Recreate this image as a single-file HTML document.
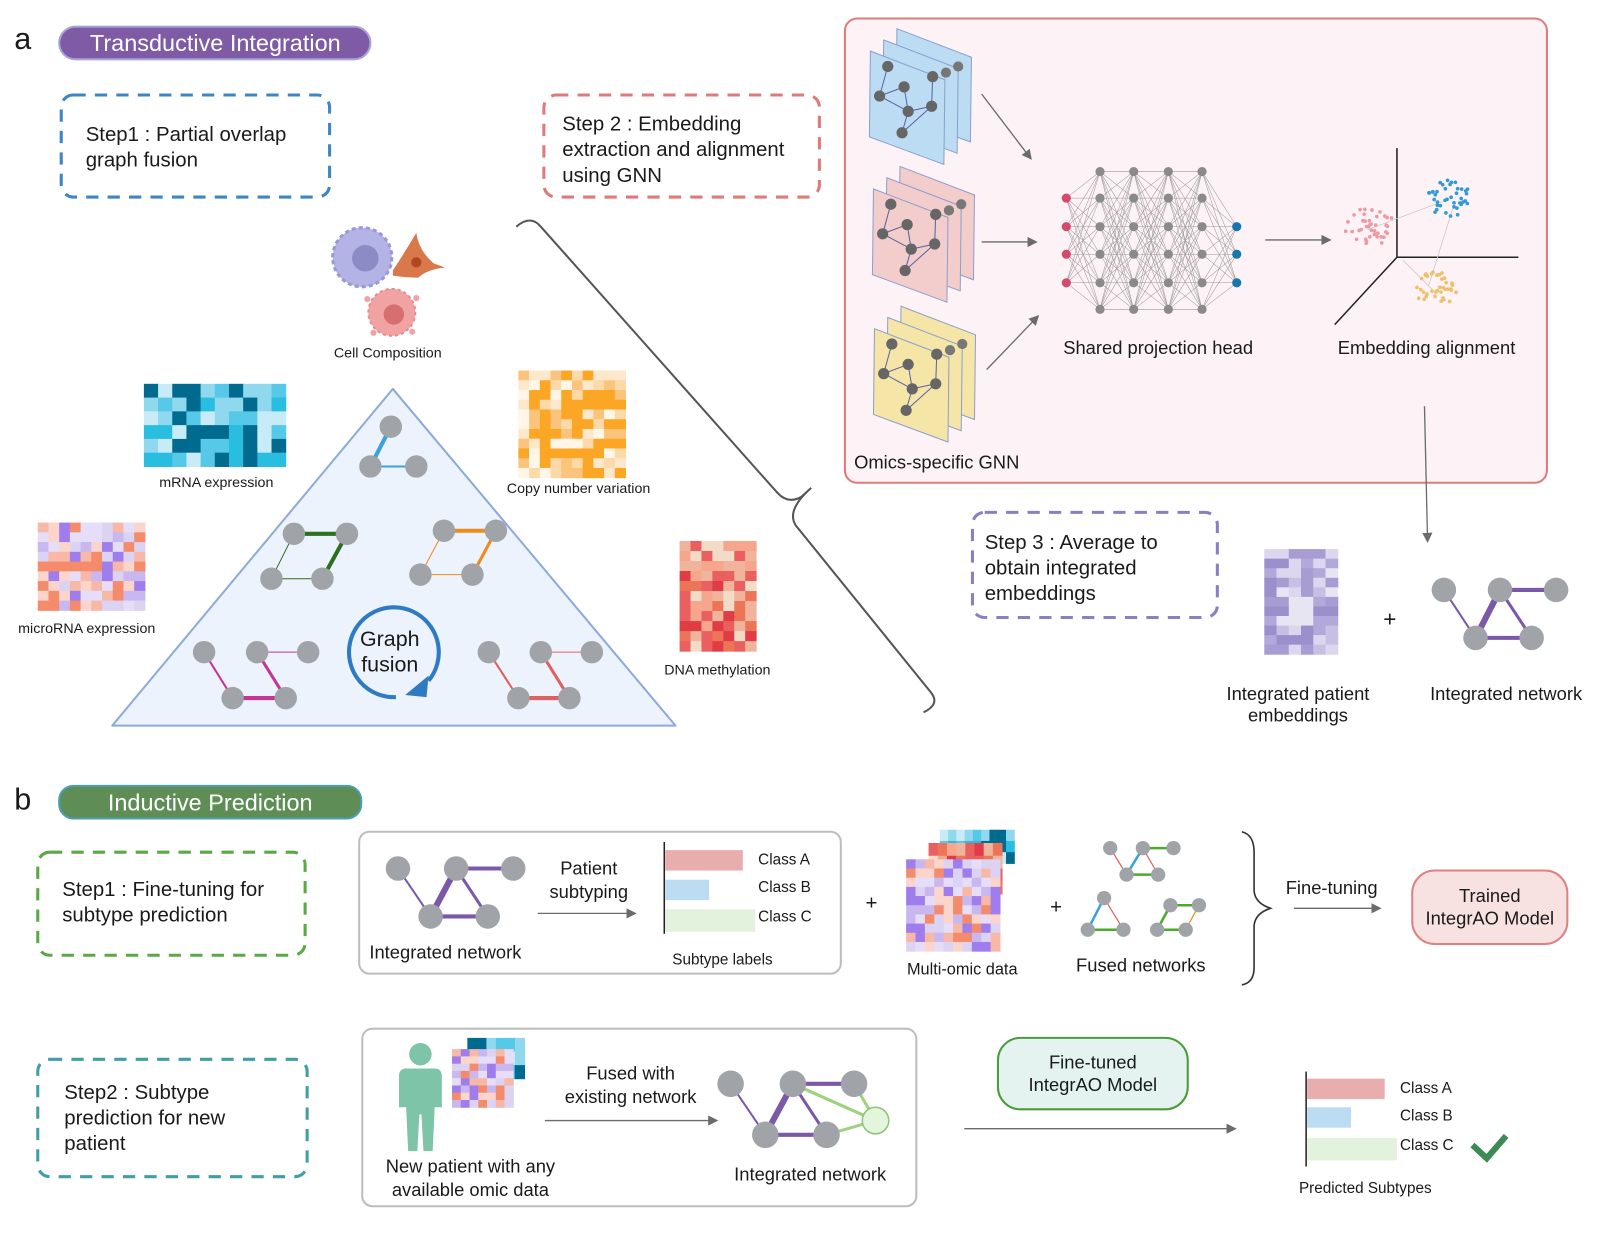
<!DOCTYPE html>
<html><head><meta charset="utf-8">
<style>
html,body{margin:0;padding:0;background:#fff;}
svg{display:block;}
text{font-family:"Liberation Sans",sans-serif;fill:#1a1a1a;}
</style></head>
<body>
<svg id="s" width="1600" height="1237" viewBox="0 0 1568 1212" xmlns="http://www.w3.org/2000/svg">
<defs>
<marker id="ar" markerWidth="10" markerHeight="10" refX="8" refY="5" orient="auto" markerUnits="userSpaceOnUse"><path d="M0,0 L10,5 L0,10 z" fill="#6b6b6b"/></marker>
</defs>
<rect width="1568" height="1212" fill="#fff"/>

<!-- ===== Section a ===== -->
<text x="14" y="48" font-size="30">a</text>
<rect x="58" y="26" width="305" height="32" rx="16" fill="#7f5ba6" stroke="#a9a3dc" stroke-width="2"/>
<text x="211" y="50" font-size="23" text-anchor="middle" style="fill:#fff">Transductive Integration</text>

<rect x="60" y="93" width="263" height="100" rx="12" fill="none" stroke="#3d85c6" stroke-width="3" stroke-dasharray="12,9"/>
<text x="84" y="138" font-size="20">Step1 : Partial overlap</text>
<text x="84" y="163" font-size="20">graph fusion</text>

<rect x="533" y="93" width="270" height="100" rx="12" fill="none" stroke="#e07a7a" stroke-width="3" stroke-dasharray="12,9"/>
<text x="551" y="128" font-size="20">Step 2 : Embedding</text>
<text x="551" y="153" font-size="20">extraction and alignment</text>
<text x="551" y="178" font-size="20">using GNN</text>

<!-- bracket -->
<path d="M506,222 Q520,210 530,222 L762,483 Q772,494 785,487 L795,478 Q770,500 780,515 L912,678 Q922,690 905,698" fill="none" stroke="#555" stroke-width="2"/>

<!-- cell composition -->
<circle cx="355" cy="252" r="29" fill="#b4b3e6" stroke="#9a98d6" stroke-width="3" stroke-dasharray="4,3"/>
<circle cx="358" cy="253" r="13" fill="#8d8bc6"/>
<path d="M385,265 Q398,245 408,228 Q410,245 425,258 L436,262 Q418,264 410,272 Q398,272 385,270z" fill="#d9784a"/>
<circle cx="408" cy="257" r="5" fill="#b0471e"/>
<circle cx="384" cy="306" r="23" fill="#f1a3a3" stroke="#e88" stroke-width="2" stroke-dasharray="3,3"/>
<circle cx="386" cy="308" r="10" fill="#d66f6f"/>
<circle cx="360" cy="293" r="3" fill="#f1a3a3"/><circle cx="408" cy="292" r="3" fill="#f1a3a3"/><circle cx="366" cy="326" r="3" fill="#f1a3a3"/><circle cx="404" cy="325" r="3" fill="#f1a3a3"/>
<text x="380" y="350" font-size="14" text-anchor="middle">Cell Composition</text>

<g id="hm"></g>
<text x="212" y="477" font-size="14" text-anchor="middle">mRNA expression</text>
<text x="567" y="483" font-size="14" text-anchor="middle">Copy number variation</text>
<text x="85" y="620" font-size="14" text-anchor="middle">microRNA expression</text>
<text x="703" y="661" font-size="14" text-anchor="middle">DNA methylation</text>

<!-- triangle -->
<path d="M385,381 L662,711 L110,711 Z" fill="#ecf3fc" stroke="#8eaadb" stroke-width="2" stroke-linejoin="round"/>
<g stroke-linecap="round">
<line x1="383" y1="418" x2="363" y2="457" stroke="#3aa0de" stroke-width="4"/>
<line x1="363" y1="457" x2="408" y2="457" stroke="#3aa0de" stroke-width="2"/>
<line x1="288" y1="523" x2="340" y2="523" stroke="#2d6e1f" stroke-width="4"/>
<line x1="340" y1="523" x2="316" y2="567" stroke="#2d6e1f" stroke-width="4"/>
<line x1="288" y1="523" x2="266" y2="567" stroke="#2d6e1f" stroke-width="1"/>
<line x1="266" y1="567" x2="316" y2="567" stroke="#2d6e1f" stroke-width="1"/>
<line x1="435" y1="520" x2="486" y2="520" stroke="#f08a1c" stroke-width="4"/>
<line x1="486" y1="520" x2="463" y2="563" stroke="#f08a1c" stroke-width="3"/>
<line x1="435" y1="520" x2="412" y2="563" stroke="#f08a1c" stroke-width="1"/>
<line x1="412" y1="563" x2="463" y2="563" stroke="#f08a1c" stroke-width="1"/>
<line x1="200" y1="639" x2="228" y2="684" stroke="#c43594" stroke-width="2"/>
<line x1="252" y1="639" x2="280" y2="684" stroke="#c43594" stroke-width="3"/>
<line x1="228" y1="684" x2="280" y2="684" stroke="#c43594" stroke-width="4"/>
<line x1="252" y1="639" x2="302" y2="639" stroke="#c43594" stroke-width="1"/>
<line x1="479" y1="639" x2="508" y2="684" stroke="#e06060" stroke-width="2"/>
<line x1="530" y1="639" x2="558" y2="684" stroke="#e06060" stroke-width="3"/>
<line x1="508" y1="684" x2="558" y2="684" stroke="#e06060" stroke-width="4"/>
<line x1="530" y1="639" x2="580" y2="639" stroke="#e06060" stroke-width="1"/>
</g>
<g fill="#a0a3a8">
<circle cx="383" cy="418" r="11"/><circle cx="363" cy="457" r="11"/><circle cx="408" cy="457" r="11"/>
<circle cx="288" cy="523" r="11"/><circle cx="340" cy="523" r="11"/><circle cx="266" cy="567" r="11"/><circle cx="316" cy="567" r="11"/>
<circle cx="435" cy="520" r="11"/><circle cx="486" cy="520" r="11"/><circle cx="412" cy="563" r="11"/><circle cx="463" cy="563" r="11"/>
<circle cx="200" cy="639" r="11"/><circle cx="252" cy="639" r="11"/><circle cx="302" cy="639" r="11"/><circle cx="228" cy="684" r="11"/><circle cx="280" cy="684" r="11"/>
<circle cx="479" cy="639" r="11"/><circle cx="530" cy="639" r="11"/><circle cx="580" cy="639" r="11"/><circle cx="508" cy="684" r="11"/><circle cx="558" cy="684" r="11"/>
</g>
<path d="M388,683 A44,44 0 1 1 420,667" fill="none" stroke="#2f7bc3" stroke-width="4"/>
<path d="M397,681 L420,662 L418,683 Z" fill="#2f7bc3"/>
<text x="382" y="633" font-size="21" text-anchor="middle">Graph</text>
<text x="382" y="658" font-size="21" text-anchor="middle">fusion</text>

<!-- pink panel -->
<rect x="828" y="18" width="688" height="455" rx="12" fill="#fdf2f6" stroke="#e07a7a" stroke-width="2"/>
<g id="gnn"></g>
<g id="nn"></g>
<line x1="962" y1="92" x2="1010" y2="155" stroke="#6b6b6b" stroke-width="1.3" marker-end="url(#ar)"/>
<line x1="962" y1="237" x2="1015" y2="237" stroke="#6b6b6b" stroke-width="1.3" marker-end="url(#ar)"/>
<line x1="967" y1="362" x2="1017" y2="310" stroke="#6b6b6b" stroke-width="1.3" marker-end="url(#ar)"/>
<line x1="1240" y1="235" x2="1303" y2="235" stroke="#6b6b6b" stroke-width="1.3" marker-end="url(#ar)"/>
<line x1="1369" y1="145" x2="1369" y2="252" stroke="#222" stroke-width="1.5"/>
<line x1="1369" y1="252" x2="1488" y2="252" stroke="#222" stroke-width="1.5"/>
<line x1="1369" y1="252" x2="1308" y2="318" stroke="#222" stroke-width="1.5"/>
<g id="cl"></g>
<text x="1135" y="347" font-size="18" text-anchor="middle">Shared projection head</text>
<text x="1398" y="347" font-size="18" text-anchor="middle">Embedding alignment</text>
<text x="837" y="459" font-size="18">Omics-specific GNN</text>

<line x1="1396" y1="398" x2="1399" y2="530" stroke="#6b6b6b" stroke-width="1.3" marker-end="url(#ar)"/>

<rect x="953" y="502" width="240" height="103" rx="12" fill="none" stroke="#8a7fc0" stroke-width="3" stroke-dasharray="12,9"/>
<text x="965" y="538" font-size="20">Step 3 : Average to</text>
<text x="965" y="563" font-size="20">obtain integrated</text>
<text x="965" y="588" font-size="20">embeddings</text>
<text x="1362" y="614" font-size="22" text-anchor="middle">+</text>
<g stroke="#7b59a8" stroke-linecap="round">
<line x1="1415" y1="578" x2="1446" y2="625" stroke-width="2"/>
<line x1="1470" y1="578" x2="1446" y2="625" stroke-width="6"/>
<line x1="1470" y1="578" x2="1525" y2="578" stroke-width="4"/>
<line x1="1470" y1="578" x2="1501" y2="625" stroke-width="3"/>
<line x1="1446" y1="625" x2="1501" y2="625" stroke-width="4"/>
</g>
<g fill="#a0a3a8"><circle cx="1415" cy="578" r="12"/><circle cx="1470" cy="578" r="12"/><circle cx="1525" cy="578" r="12"/><circle cx="1446" cy="625" r="12"/><circle cx="1501" cy="625" r="12"/></g>
<text x="1272" y="686" font-size="18" text-anchor="middle">Integrated  patient</text>
<text x="1272" y="707" font-size="18" text-anchor="middle">embeddings</text>
<text x="1476" y="686" font-size="18" text-anchor="middle">Integrated  network</text>

<!-- ===== Section b ===== -->
<text x="14" y="793" font-size="30">b</text>
<rect x="58" y="770" width="296" height="32" rx="14" fill="#5e8e55" stroke="#4b9eb3" stroke-width="2"/>
<text x="206" y="794" font-size="23" text-anchor="middle" style="fill:#fff">Inductive Prediction</text>

<rect x="37" y="835" width="262" height="101" rx="12" fill="none" stroke="#5aa846" stroke-width="3" stroke-dasharray="12,9"/>
<text x="61" y="878" font-size="20">Step1 : Fine-tuning for</text>
<text x="61" y="903" font-size="20">subtype prediction</text>

<rect x="352" y="815" width="472" height="139" rx="10" fill="#fff" stroke="#bdbdbd" stroke-width="2"/>
<g stroke="#7b59a8" stroke-linecap="round">
<line x1="390" y1="851" x2="422" y2="898" stroke-width="2"/>
<line x1="447" y1="851" x2="422" y2="898" stroke-width="6"/>
<line x1="447" y1="851" x2="503" y2="851" stroke-width="4"/>
<line x1="447" y1="851" x2="478" y2="898" stroke-width="3"/>
<line x1="422" y1="898" x2="478" y2="898" stroke-width="4"/>
</g>
<g fill="#a0a3a8"><circle cx="390" cy="851" r="12"/><circle cx="447" cy="851" r="12"/><circle cx="503" cy="851" r="12"/><circle cx="422" cy="898" r="12"/><circle cx="478" cy="898" r="12"/></g>
<text x="362" y="939" font-size="18">Integrated  network</text>
<text x="577" y="857" font-size="18" text-anchor="middle">Patient</text>
<text x="577" y="880" font-size="18" text-anchor="middle">subtyping</text>
<line x1="527" y1="895" x2="622" y2="895" stroke="#6b6b6b" stroke-width="1.3" marker-end="url(#ar)"/>
<line x1="651" y1="825" x2="651" y2="915" stroke="#222" stroke-width="1.5"/>
<rect x="652" y="833" width="76" height="20" fill="#e8aeae"/>
<rect x="652" y="862" width="43" height="20" fill="#bcdcf3"/>
<rect x="652" y="891" width="88" height="22" fill="#e2f2dc"/>
<text x="743" y="847" font-size="15">Class A</text>
<text x="743" y="874" font-size="15">Class B</text>
<text x="743" y="903" font-size="15">Class C</text>
<text x="708" y="945" font-size="15" text-anchor="middle">Subtype labels</text>

<text x="854" y="891" font-size="20" text-anchor="middle">+</text>
<g id="hm2"></g>
<text x="943" y="955" font-size="16" text-anchor="middle">Multi-omic data</text>
<text x="1035" y="895" font-size="20" text-anchor="middle">+</text>
<g stroke-linecap="round" stroke-width="2.5">
<line x1="1120" y1="831" x2="1150" y2="831" stroke="#4caa2d"/>
<line x1="1120" y1="831" x2="1104" y2="857" stroke="#3aa0de"/>
<line x1="1088" y1="831" x2="1104" y2="857" stroke="#e06060" stroke-width="1.2"/>
<line x1="1120" y1="831" x2="1135" y2="857" stroke="#e06060" stroke-width="1.2"/>
<line x1="1104" y1="857" x2="1135" y2="857" stroke="#4caa2d"/>
<line x1="1082" y1="880" x2="1066" y2="911" stroke="#3aa0de"/>
<line x1="1082" y1="880" x2="1101" y2="911" stroke="#e06060" stroke-width="1.2"/>
<line x1="1066" y1="911" x2="1101" y2="911" stroke="#4caa2d"/>
<line x1="1147" y1="887" x2="1175" y2="887" stroke="#4caa2d"/>
<line x1="1147" y1="887" x2="1134" y2="911" stroke="#4caa2d"/>
<line x1="1175" y1="887" x2="1162" y2="911" stroke="#f08a1c" stroke-width="1.2"/>
<line x1="1134" y1="911" x2="1162" y2="911" stroke="#4caa2d"/>
</g>
<g fill="#a0a3a8">
<circle cx="1088" cy="831" r="7"/><circle cx="1120" cy="831" r="7"/><circle cx="1150" cy="831" r="7"/><circle cx="1104" cy="857" r="7"/><circle cx="1135" cy="857" r="7"/>
<circle cx="1082" cy="880" r="7"/><circle cx="1066" cy="911" r="7"/><circle cx="1101" cy="911" r="7"/>
<circle cx="1147" cy="887" r="7"/><circle cx="1175" cy="887" r="7"/><circle cx="1134" cy="911" r="7"/><circle cx="1162" cy="911" r="7"/>
</g>
<text x="1118" y="952" font-size="18" text-anchor="middle">Fused networks</text>
<path d="M1217,815 Q1229,818 1229,835 L1229,873 Q1230,885 1245,890 Q1230,895 1229,907 L1229,948 Q1229,963 1217,965" fill="none" stroke="#333" stroke-width="1.6"/>
<text x="1305" y="876" font-size="18" text-anchor="middle">Fine-tuning</text>
<line x1="1268" y1="890" x2="1352" y2="890" stroke="#6b6b6b" stroke-width="1.3" marker-end="url(#ar)"/>
<rect x="1384" y="853" width="152" height="72" rx="22" fill="#f8e1e1" stroke="#e08080" stroke-width="2"/>
<text x="1460" y="884" font-size="18" text-anchor="middle">Trained</text>
<text x="1460" y="906" font-size="18" text-anchor="middle">IntegrAO Model</text>

<rect x="37" y="1038" width="264" height="115" rx="12" fill="none" stroke="#3f9ea6" stroke-width="3" stroke-dasharray="12,9"/>
<text x="63" y="1077" font-size="20">Step2 : Subtype</text>
<text x="63" y="1102" font-size="20">prediction for new</text>
<text x="63" y="1127" font-size="20">patient</text>

<rect x="355" y="1008" width="543" height="174" rx="10" fill="#fff" stroke="#bdbdbd" stroke-width="2"/>
<g fill="#7ec4a8">
<circle cx="412" cy="1033" r="11"/>
<path d="M398,1047 L426,1047 Q433,1047 433,1055 L433,1085 L426,1085 L424,1128 L415,1128 L413,1092 L411,1092 L409,1128 L400,1128 L398,1085 L391,1085 L391,1055 Q391,1047 398,1047Z"/>
</g>
<g id="hm3"></g>
<text x="618" y="1058" font-size="18" text-anchor="middle">Fused with</text>
<text x="618" y="1081" font-size="18" text-anchor="middle">existing network</text>
<line x1="534" y1="1098" x2="702" y2="1098" stroke="#6b6b6b" stroke-width="1.3" marker-end="url(#ar)"/>
<g stroke-linecap="round">
<line x1="777" y1="1062" x2="858" y2="1098" stroke="#9dd27e" stroke-width="3"/>
<line x1="837" y1="1062" x2="858" y2="1098" stroke="#9dd27e" stroke-width="3"/>
<line x1="810" y1="1112" x2="858" y2="1098" stroke="#9dd27e" stroke-width="3"/>
<line x1="716" y1="1062" x2="750" y2="1112" stroke="#7b59a8" stroke-width="2"/>
<line x1="777" y1="1062" x2="750" y2="1112" stroke="#7b59a8" stroke-width="6"/>
<line x1="777" y1="1062" x2="837" y2="1062" stroke="#7b59a8" stroke-width="4"/>
<line x1="777" y1="1062" x2="810" y2="1112" stroke="#7b59a8" stroke-width="3"/>
<line x1="750" y1="1112" x2="810" y2="1112" stroke="#7b59a8" stroke-width="4"/>
</g>
<g fill="#a0a3a8"><circle cx="716" cy="1062" r="13"/><circle cx="777" cy="1062" r="13"/><circle cx="837" cy="1062" r="13"/><circle cx="750" cy="1112" r="13"/><circle cx="810" cy="1112" r="13"/></g>
<circle cx="858" cy="1098" r="13" fill="#e3f5da" stroke="#8cc47a" stroke-width="1.5"/>
<text x="794" y="1157" font-size="18" text-anchor="middle">Integrated  network</text>
<text x="461" y="1149" font-size="18" text-anchor="middle">New patient with any</text>
<text x="461" y="1172" font-size="18" text-anchor="middle">available omic data</text>

<rect x="978" y="1017" width="186" height="70" rx="22" fill="#e4f3ef" stroke="#4a9b3a" stroke-width="2"/>
<text x="1071" y="1047" font-size="18" text-anchor="middle">Fine-tuned</text>
<text x="1071" y="1069" font-size="18" text-anchor="middle">IntegrAO Model</text>
<line x1="945" y1="1106" x2="1210" y2="1106" stroke="#6b6b6b" stroke-width="1.3" marker-end="url(#ar)"/>
<line x1="1280" y1="1050" x2="1280" y2="1143" stroke="#222" stroke-width="1.5"/>
<rect x="1281" y="1057" width="76" height="20" fill="#e8aeae"/>
<rect x="1281" y="1085" width="43" height="20" fill="#bcdcf3"/>
<rect x="1281" y="1115" width="88" height="22" fill="#e2f2dc"/>
<text x="1372" y="1071" font-size="15">Class A</text>
<text x="1372" y="1098" font-size="15">Class B</text>
<text x="1372" y="1127" font-size="15">Class C</text>
<path d="M1443,1122 L1457,1135 L1476,1113" fill="none" stroke="#3e8a55" stroke-width="6"/>
<text x="1338" y="1169" font-size="15" text-anchor="middle">Predicted Subtypes</text>
</svg>
<script>
(function(){
var NS="http://www.w3.org/2000/svg";
function el(p,t,a){var e=document.createElementNS(NS,t);for(var k in a)e.setAttribute(k,a[k]);p.appendChild(e);return e;}
var seed=7;function r(){seed=(seed*16807)%2147483647;return seed/2147483647;}
function hm(g,x,y,w,h,cols,rows,pal){var cw=w/cols,ch=h/rows;for(var i=0;i<rows;i++)for(var j=0;j<cols;j++)el(g,"rect",{x:x+j*cw,y:y+i*ch,width:cw+0.5,height:ch+0.5,fill:pal[Math.floor(r()*pal.length)]});}
var g=document.getElementById("hm");
var blue=["#006b8f","#006b8f","#29bde0","#56c8e8","#8fd8ee","#c7ecf7"];
var orng=["#fba624","#fbc47c","#fcd9a8","#fde8cc","#fff6e8","#fba624"];
var purp=["#f48c6c","#fbd5cb","#c9b7f0","#e6ddf8","#9f7ded","#dcd2f2","#f7b8a7"];
var red=["#e03c46","#ec7558","#f5a68c","#f2dcc8","#ea5f5f","#f0b49c"];
var lav=["#9b8fcc","#b3a8da","#c8c0e4","#dcd7ee","#a89dd3","#e8e5f3"];
hm(g,141,376,139,81,10,6,blue);
hm(g,508,363,105,105,10,11,orng);
hm(g,37,512,105,86,10,9,purp);
hm(g,666,530,75,108,7,11,red);
hm(g,1239,538,72,103,6,11,lav);
var g2=document.getElementById("hm2");
hm(g2,921,813,73,33,9,3,blue);
hm(g2,910,826,72,50,8,4,red);
hm(g2,888,842,92,90,10,10,purp);
var g3=document.getElementById("hm3");
hm(g3,458,1017,56,40,6,3,blue);
hm(g3,443,1028,60,57,7,8,purp);
// GNN stacks
var gn=document.getElementById("gnn");
var st=[[853,50,"#bcdcf4"],[856,185,"#f3cccc"],[857,322,"#f5e6a8"]];
st.forEach(function(s){for(var k=2;k>=0;k--){var ox=s[0]+k*13,oy=s[1]-k*11;
el(gn,"polygon",{points:ox+","+oy+" "+(ox+73)+","+(oy+28)+" "+(ox+72)+","+(oy+111)+" "+(ox-1)+","+(oy+84),fill:s[2],stroke:"#8aa0cf","stroke-width":1});}
var ox=s[0],oy=s[1];var n=[[17,15],[9,44],[33,35],[37,59],[60,54],[61,25],[31,80]];
var e=[[0,1],[1,2],[1,3],[2,3],[3,4],[4,5],[3,6],[4,6]];
e.forEach(function(p){el(gn,"line",{x1:ox+n[p[0]][0],y1:oy+n[p[0]][1],x2:ox+n[p[1]][0],y2:oy+n[p[1]][1],stroke:"#5763a3","stroke-width":1});});
n.forEach(function(p){el(gn,"circle",{cx:ox+p[0],cy:oy+p[1],r:5.5,fill:"#666"});});
el(gn,"circle",{cx:ox+86,cy:oy+15,r:5,fill:"#777"});el(gn,"circle",{cx:ox+74,cy:oy+21,r:5,fill:"#777"});});
// neural net
var nn=document.getElementById("nn");
var cols=[[1045,[194,222,249,277],"#d44a6b"],[1078,[168,194,222,249,277,303],"#8a8a8a"],[1111,[168,194,222,249,277,303],"#8a8a8a"],[1145,[168,194,222,249,277,303],"#8a8a8a"],[1178,[168,194,222,249,277,303],"#8a8a8a"],[1212,[222,249,277],"#1577b0"]];
for(var c=0;c<cols.length-1;c++){cols[c][1].forEach(function(a){cols[c+1][1].forEach(function(b){el(nn,"line",{x1:cols[c][0],y1:a,x2:cols[c+1][0],y2:b,stroke:"#999","stroke-width":0.5});});});}
cols.forEach(function(cc){cc[1].forEach(function(y){el(nn,"circle",{cx:cc[0],cy:y,r:4.5,fill:cc[2]});});});
// clusters
var cl=document.getElementById("cl");
function clus(cx,cy,rx,ry,col,n){for(var i=0;i<n;i++){var a=r()*6.283,d=Math.sqrt(r());el(cl,"circle",{cx:cx+Math.cos(a)*rx*d,cy:cy+Math.sin(a)*ry*d,r:1.8,fill:col});}}
el(cl,"line",{x1:1340,y1:225,x2:1420,y2:195,stroke:"#ccc","stroke-width":0.8});
el(cl,"line",{x1:1375,y1:255,x2:1405,y2:285,stroke:"#ccc","stroke-width":0.8});
el(cl,"line",{x1:1425,y1:200,x2:1400,y2:280,stroke:"#ccc","stroke-width":0.8});
clus(1342,222,24,20,"#ef9aa2",40);clus(1420,194,22,18,"#2f9bd6",40);clus(1406,283,22,18,"#efc06a",40);
})();
</script>
</body></html>
